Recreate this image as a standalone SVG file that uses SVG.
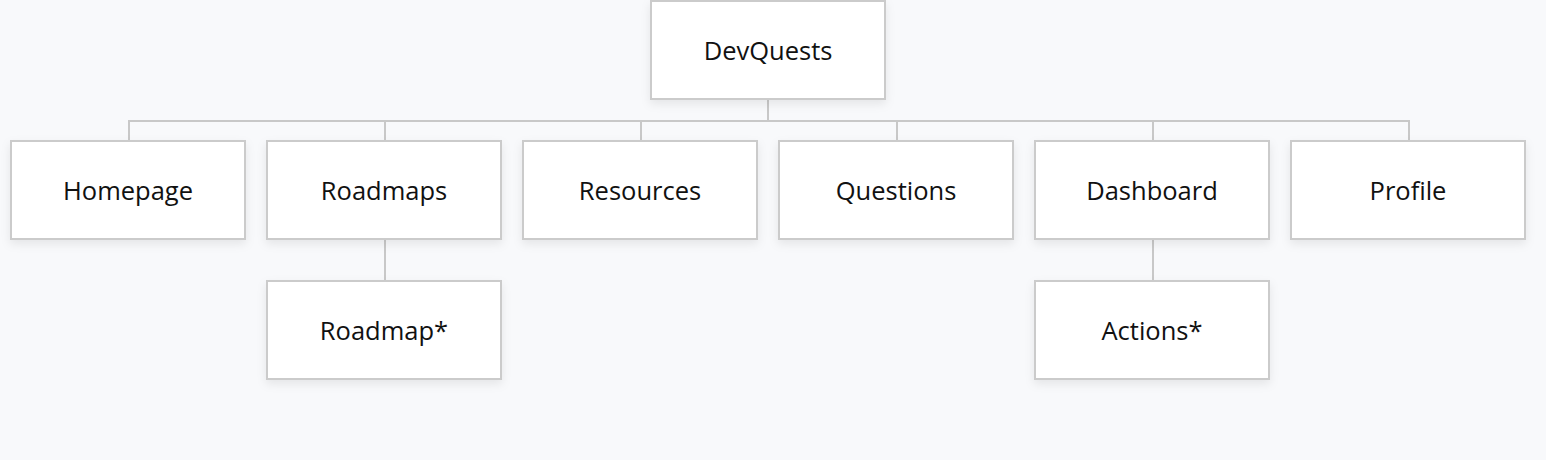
<svg xmlns="http://www.w3.org/2000/svg" width="1546" height="460" viewBox="0 0 1546 460">
<defs>
<filter id="sh" x="-20%" y="-20%" width="140%" height="160%">
<feDropShadow dx="0" dy="4" stdDeviation="5" flood-color="#000" flood-opacity="0.08"/>
</filter>
<style>
.box{fill:#fff;stroke:#cbcbcb;stroke-width:2;filter:url(#sh)}
.lbl{font-family:"Open Sans","Noto Sans",sans-serif;font-size:25.5px;fill:#111;text-anchor:middle}
.con{fill:none;stroke:#c8c8c8;stroke-width:2}
</style>
</defs>
<rect width="1546" height="460" fill="#f8f9fb"/>
<g id="connectors">
<path class="con" d="M768 99V121M129 141V121H1409V141M385 121V141M641 121V141M897 121V141M1153 121V141M385 239V281M1153 239V281"/>
</g>
<g id="devquests"><rect class="box" x="651" y="1" width="234" height="98"/><text class="lbl" x="768" y="59.5">DevQuests</text></g>
<g id="homepage"><rect class="box" x="11" y="141" width="234" height="98"/><text class="lbl" x="128" y="199.5">Homepage</text></g>
<g id="roadmaps"><rect class="box" x="267" y="141" width="234" height="98"/><text class="lbl" x="384" y="199.5">Roadmaps</text></g>
<g id="resources"><rect class="box" x="523" y="141" width="234" height="98"/><text class="lbl" x="640" y="199.5">Resources</text></g>
<g id="questions"><rect class="box" x="779" y="141" width="234" height="98"/><text class="lbl" x="896" y="199.5">Questions</text></g>
<g id="dashboard"><rect class="box" x="1035" y="141" width="234" height="98"/><text class="lbl" x="1152" y="199.5">Dashboard</text></g>
<g id="profile"><rect class="box" x="1291" y="141" width="234" height="98"/><text class="lbl" x="1408" y="199.5">Profile</text></g>
<g id="roadmap"><rect class="box" x="267" y="281" width="234" height="98"/><text class="lbl" x="384" y="339.5">Roadmap*</text></g>
<g id="actions"><rect class="box" x="1035" y="281" width="234" height="98"/><text class="lbl" x="1152" y="339.5">Actions*</text></g>
</svg>
